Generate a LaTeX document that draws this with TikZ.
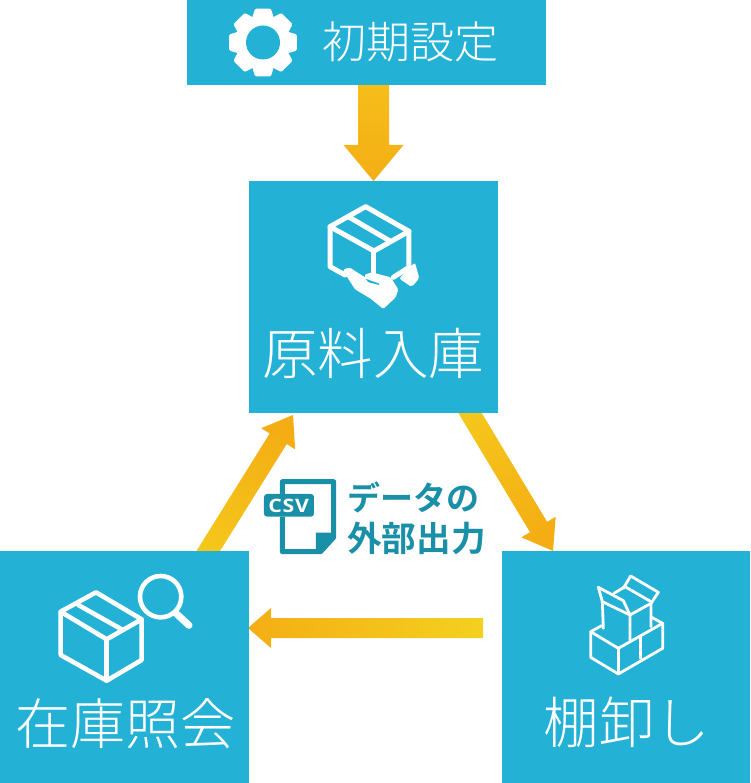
\documentclass[tikz,border=0pt]{standalone}
\usepackage{fontspec}
\usepackage{graphicx}
\usetikzlibrary{calc}
\newfontfamily\jpl{Noto Sans CJK JP}[UprightFont=* Light]
\newfontfamily\jpb{Noto Sans CJK JP}[UprightFont=* Bold]
\newfontfamily\csvf{Open Sans}[UprightFont=* Bold,LetterSpace=4]
\definecolor{boxblue}{HTML}{23B2D6}
\definecolor{tealtxt}{HTML}{1A8FA8}
\definecolor{arrowend}{HTML}{F4AE14}
\definecolor{arrowmid}{HTML}{F5BE1A}
\definecolor{arrowdiag}{HTML}{F5C61B}
\definecolor{arrowlight}{HTML}{F4D020}
\tikzset{
  bluebox/.style={fill=boxblue,draw=none,inner sep=0pt,anchor=north west},
  wlabel/.style={text=white,inner sep=0pt,font=\jpl},
  tlabel/.style={text=tealtxt,inner sep=0pt,font=\jpb},
  iconline/.style={draw=white,line width=1.6pt,line join=round,line cap=round},
}
% start, tip, half shaft, half head, head length, start colour, shading angle
\newcommand{\blockarrow}[7]{%
  \coordinate (hb) at ($(#2)!#5!(#1)$);
  \path[left color=#6,right color=arrowend,shading angle=#7]
    ($(#1)!#3!90:(#2)$) -- ($(hb)!#3!90:(#2)$) -- ($(hb)!#4!90:(#2)$) -- (#2)
    -- ($(hb)!#4!-90:(#2)$) -- ($(hb)!#3!-90:(#2)$) -- ($(#1)!#3!-90:(#2)$) -- cycle;
}
\begin{document}
\begin{tikzpicture}[x=1pt,y=-1pt]
\useasboundingbox (0,0) rectangle (750,783);
% arrows first, so that their slanted ends are hidden behind the boxes
\coordinate (a1s) at (373.5,85); \coordinate (a1t) at (373.5,181);
\coordinate (a2s) at (464,403); \coordinate (a2t) at (553,551);
\coordinate (a3s) at (202,561); \coordinate (a3t) at (293,415);
\coordinate (a4s) at (483,628); \coordinate (a4t) at (248,628);
\blockarrow{a1s}{a1t}{15.5pt}{30pt}{36pt}{arrowmid}{0}
\blockarrow{a2s}{a2t}{10pt}{20pt}{28pt}{arrowdiag}{31}
\blockarrow{a3s}{a3t}{10pt}{20pt}{28pt}{arrowdiag}{148}
\blockarrow{a4s}{a4t}{10pt}{20pt}{23pt}{arrowlight}{-90}

\node[bluebox,minimum width=359pt,minimum height=85pt] (setup) at (187,0) {};
\node[bluebox,minimum width=249pt,minimum height=232pt] (material) at (249,181) {};
\node[bluebox,minimum width=249pt,minimum height=232pt] (stock) at (0,551) {};
\node[bluebox,minimum width=248pt,minimum height=232pt] (shelf) at (502,551) {};

\node[wlabel,font=\jpl\fontsize{44}{45}\selectfont] (tsetup) at (410.5,42) {初期設定};
\node[wlabel,font=\jpl\fontsize{55.5}{56}\selectfont] (tmat) at (373,353) {原料入庫};
\node[wlabel,font=\jpl\fontsize{55}{56}\selectfont] (tstock) at (125,724) {在庫照会};
\node[wlabel,font=\jpl\fontsize{55.5}{56}\selectfont] (tshelf) at (627,722) {棚卸し};
\node[tlabel,font=\jpb\fontsize{33}{34}\selectfont] (t1) at (413.5,497) {データの};
\node[tlabel,font=\jpb\fontsize{34.6}{35}\selectfont] (t2) at (416.5,538) {外部出力};

% gear
\begin{scope}[shift={(263,42.5)}]
  \fill[white] (0,0) circle[radius=27.5];
  \foreach \a in {0,45,...,315}
    \fill[white,rotate=\a,rounded corners=1.2pt] (-11,-24) -- (-8,-33.8) -- (8,-33.8) -- (11,-24) -- cycle;
  \fill[boxblue] (0,0) circle[radius=17];
\end{scope}

% box + hand
\begin{scope}[shift={(300,190)},x=0.3333pt,y=-0.3333pt]
  \draw[iconline,line width=5pt] (197,50) -- (90,110) -- (222,183) -- (327,124) -- cycle;
  \draw[iconline,line width=5pt] (145,80) -- (268,152);
  \draw[iconline,line width=5pt] (90,110) -- (90,230) -- (135,255);
  \draw[iconline,line width=5pt] (222,183) -- (222,255);
  \draw[iconline,line width=5pt] (327,124) -- (327,232) -- (280,262);
  \fill[white,rounded corners=1.5pt] (128,240) -- (148,232) -- (198,264) -- (192,255) -- (215,247) -- (272,262) -- (295,298) -- (287,322) -- (250,357) -- (212,326) -- (165,298) -- cycle;
  \fill[boxblue,rounded corners=0.5pt] (196,266) -- (238,281) -- (238,285) -- (206,277) -- cycle;
  \fill[white,rounded corners=2pt] (322,238) -- (345,218) -- (358,265) -- (335,291) -- (298,266) -- cycle;
\end{scope}

% box + magnifier
\begin{scope}[shift={(40,560)},x=0.3333pt,y=-0.3333pt]
  \draw[iconline,line width=4.6pt] (168,97) -- (62,155) -- (200,238) -- (305,178) -- cycle;
  \draw[iconline,line width=4.6pt] (115,135) -- (245,208);
  \draw[iconline,line width=4.6pt] (62,155) -- (62,285) -- (200,362) -- (305,300) -- (305,178);
  \draw[iconline,line width=4.6pt] (200,238) -- (200,362);
  \draw[iconline,line width=4.6pt] (362,110) circle[radius=62];
  \draw[iconline,line width=7pt] (408,160) -- (447,196);
\end{scope}

% stacked boxes
\begin{scope}[shift={(570,560)},x=0.3333pt,y=-0.3333pt]
  \draw[iconline,line width=2.8pt] (85,82) -- (97,125) -- (100,205);
  \draw[iconline,line width=2.8pt] (85,82) -- (160,122) -- (180,165) -- (243,130) -- (243,200);
  \draw[iconline,line width=2.8pt] (97,125) -- (180,165) -- (180,240);
  \draw[iconline,line width=2.8pt] (132,100) -- (165,80) -- (243,125);
  \draw[iconline,line width=2.8pt] (160,85) -- (182,48) -- (265,97) -- (243,130);
  \draw[iconline,line width=2.8pt] (95,197) -- (62,215) -- (145,265) -- (278,190) -- (245,172);
  \draw[iconline,line width=2.8pt] (62,215) -- (62,292) -- (145,342) -- (278,265) -- (278,190);
  \draw[iconline,line width=2.8pt] (145,265) -- (145,342);
  \draw[iconline,line width=2.8pt] (212,228) -- (212,295);
\end{scope}

% CSV icon
\begin{scope}[shift={(190,400)},x=0.3333pt,y=-0.3333pt]
  \draw[tealtxt,line width=5pt,line join=round] (277,282) -- (277,245) -- (431,245) -- (431,412) -- (392,455) -- (277,455) -- (277,350);
  \fill[tealtxt] (378,398) -- (435,398) -- (392,455) -- (378,455) -- cycle;
  \fill[tealtxt,rounded corners=3pt] (222,282) rectangle (372,350);
  \node[text=white,inner sep=0pt,font=\csvf\fontsize{18.5}{19}\selectfont] (csv) at (296,317) {\scalebox{1.15}[1]{CSV}};
\end{scope}
\end{tikzpicture}
\end{document}
